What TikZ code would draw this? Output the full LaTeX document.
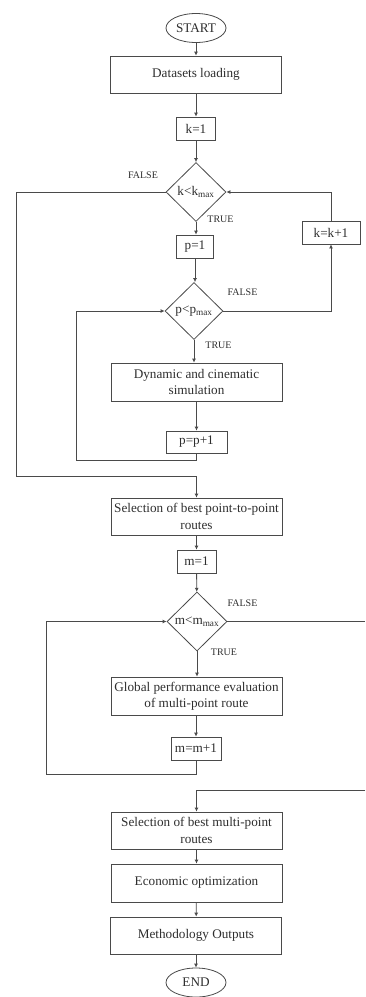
\documentclass[tikz,border=0pt]{standalone}
\usepackage{fontspec}
\setmainfont{Liberation Serif}
\usetikzlibrary{arrows.meta,shapes.geometric}
\definecolor{ink}{HTML}{4A4A4A}
\definecolor{txt}{HTML}{2E2E2E}

\begin{document}
\begin{tikzpicture}[
    x=1pt, y=-1pt,
    line cap=butt, line join=miter,
    every node/.style={text=txt, font=\fontsize{13.2}{16.5}\selectfont},
    box/.style={draw=ink, line width=0.8pt, rectangle, inner sep=1pt,
        minimum width=171pt, minimum height=37pt, align=center},
    smallbox/.style={draw=ink, line width=0.8pt, rectangle, inner sep=1pt,
        minimum height=23pt},
    cond/.style={draw=ink, line width=0.8pt, diamond, aspect=1, inner sep=0pt,
        minimum width=60pt, minimum height=59pt},
    term/.style={draw=ink, line width=0.8pt, ellipse, inner sep=0pt,
        minimum width=60pt, minimum height=29pt},
    flow/.style={ink, line width=0.8pt, -{Latex[length=4pt,width=4pt]}},
    wire/.style={ink, line width=0.8pt},
    lbl/.style={font=\fontsize{10}{12}\selectfont},
]
\useasboundingbox (0,0) rectangle (365,997);

% Terminals and process boxes
\node[term] (start) at (196,28) {START};
\node[box] (load) at (196,74.5) {Datasets loading};
\node[smallbox, minimum width=39pt] (kinit) at (196,128.5) {k=1};
\node[cond] (kcond) at (196,192) {k<k\textsubscript{max}};
\node[smallbox, minimum width=37pt] (pinit) at (195,246.5) {p=1};
\node[cond, minimum width=58pt, minimum height=57pt] (pcond) at (194,311)
    {p<p\textsubscript{max}};
\node[box, minimum height=38pt] (sim) at (196.5,382)
    {Dynamic and cinematic\\simulation};
\node[smallbox, minimum width=61pt, minimum height=22pt] (pinc) at (196.5,442) {p=p+1};
\node[smallbox, minimum width=58pt] (kinc) at (331,232.5) {k=k+1};
\node[box] (best) at (196.5,516.5) {Selection of best point-to-point\\routes};
\node[smallbox, minimum width=39pt] (minit) at (196.5,561.5) {m=1};
\node[cond] (mcond) at (197,621.5) {m<m\textsubscript{max}};
\node[box, minimum height=38pt] (glob) at (196.5,696)
    {Global performance evaluation\\of multi-point route};
\node[smallbox, minimum width=50pt] (minc) at (196,748.5) {m=m+1};
\node[box] (bestm) at (196.5,830.5) {Selection of best multi-point\\routes};
\node[box, minimum height=38pt] (econ) at (196.5,883) {Economic optimization};
\node[box] (outp) at (196,935.5) {Methodology Outputs};
\node[term] (stop) at (196,982.5) {END};

% Branch labels
\node[lbl] (kfalse) at (143,175) {FALSE};
\node[lbl] (ktrue) at (220.5,219) {TRUE};
\node[lbl] (pfalse) at (242.5,292.5) {FALSE};
\node[lbl] (ptrue) at (218.5,345.5) {TRUE};
\node[lbl] (mfalse) at (242.5,603.5) {FALSE};
\node[lbl] (mtrue) at (224,652.5) {TRUE};

% Bends of the loops
\coordinate (kout) at (16,476);
\coordinate (ploop) at (76,460);
\coordinate (mloop) at (46,774);
\coordinate (edgeA) at (365,621.5);
\coordinate (edgeB) at (365,790);

% Main column
\draw[flow] (start) -- (load);
\draw[flow] (load) -- (kinit);
\draw[flow] (kinit) -- (kcond);
\draw[flow] (kcond.south) -- (kcond.south |- pinit.north);
\draw[flow] (pinit.south) -- (pinit.south |- pcond.north);
\draw[flow] (pcond.south) -- (pcond.south |- sim.north);
\draw[flow] (sim.south -| pinc) -- (pinc);
\draw[flow] (best.south -| minit) -- (minit);
\draw[flow] (minit) -- (mcond);
\draw[flow] (mcond.south) -- (mcond.south |- glob.north);
\draw[flow] (glob.south -| minc) -- (minc);
\draw[flow] (bestm) -- (econ);
\draw[flow] (econ) -- (outp);
\draw[flow] (outp) -- (stop);

% Loop over p
\draw[flow] (pinc.south) |- (ploop) |- (pcond.west);
\draw[flow] (pcond.east) -| (kinc.south);

% Loop over k
\draw[flow] (kinc.north) |- (kcond.east);
\draw[flow] (kcond.west) -| (kout) -| (best.north);

% Loop over m
\draw[flow] (minc.south) |- (mloop) |- (mcond.west);
\draw[wire] (mcond.east) -- (edgeA);
\draw[flow] (edgeB) -| (bestm.north);

\end{tikzpicture}
\end{document}
